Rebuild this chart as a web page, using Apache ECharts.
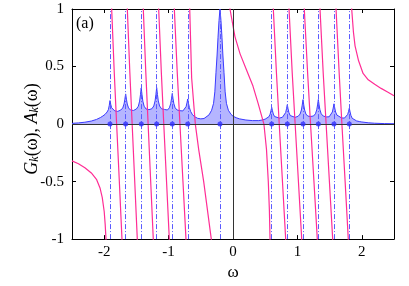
<!DOCTYPE html>
<html><head><meta charset="utf-8">
<script src="https://cdn.jsdelivr.net/npm/echarts@6/dist/echarts.min.js"></script>
<style>html,body{margin:0;padding:0;background:#fff}#c{width:409px;height:286px}</style>
</head><body><div id="c"></div>
<script>
const xTicks = [-2, -1, 0, 1, 2];
const yTicks = [-1, -0.5, 0, 0.5, 1];
const poles = [-1.91, -1.667, -1.424, -1.185, -0.943, -0.703, -0.202, 0.601, 0.843, 1.087, 1.325, 1.568, 1.806];

const spectral = [
  [-2.5,0.006],[-2.4,0.01],[-2.3,0.016],[-2.2,0.026],[-2.12,0.04],[-2.06,0.056],[-2.02,0.07],[-1.985,0.085],
  [-1.955,0.105],[-1.935,0.125],[-1.922,0.16],[-1.91,0.204],[-1.898,0.17],[-1.885,0.142],[-1.865,0.125],[-1.835,0.114],
  [-1.79,0.11],
  [-1.742,0.122],[-1.712,0.14],[-1.692,0.174],[-1.679,0.216],[-1.667,0.262],[-1.655,0.216],[-1.642,0.174],[-1.622,0.14],[-1.592,0.122],
  [-1.545,0.118],
  [-1.5,0.131],[-1.47,0.155],[-1.45,0.199],[-1.437,0.255],[-1.425,0.314],[-1.413,0.255],[-1.4,0.199],[-1.38,0.155],[-1.35,0.131],
  [-1.305,0.125],
  [-1.26,0.133],[-1.23,0.157],[-1.21,0.201],[-1.197,0.257],[-1.185,0.316],[-1.173,0.257],[-1.16,0.201],[-1.14,0.157],[-1.11,0.133],
  [-1.064,0.127],
  [-1.018,0.122],[-0.988,0.141],[-0.968,0.176],[-0.955,0.219],[-0.943,0.266],[-0.931,0.219],[-0.918,0.176],[-0.898,0.141],[-0.868,0.122],
  [-0.823,0.116],
  [-0.778,0.114],[-0.748,0.128],[-0.728,0.152],[-0.715,0.184],[-0.703,0.218],[-0.691,0.18],[-0.678,0.145],[-0.658,0.11],[-0.628,0.08],
  [-0.59,0.062],[-0.55,0.05],[-0.5,0.045],[-0.45,0.048],[-0.422,0.055],[-0.372,0.08],
  [-0.332,0.12],[-0.302,0.18],[-0.282,0.28],[-0.264,0.45],[-0.247,0.6],[-0.233,0.75],[-0.217,0.9],[-0.202,1.0],
  [-0.187,0.9],[-0.171,0.75],[-0.157,0.6],[-0.14,0.45],[-0.122,0.28],[-0.102,0.18],[-0.072,0.12],[-0.032,0.085],
  [0.0,0.068],[0.05,0.055],[0.1,0.045],[0.2,0.035],[0.3,0.03],[0.4,0.03],[0.46,0.036],[0.5,0.043],
  [0.526,0.05],[0.556,0.063],[0.576,0.085],[0.589,0.115],[0.601,0.145],[0.613,0.115],[0.626,0.087],[0.646,0.065],[0.676,0.054],
  [0.722,0.052],
  [0.768,0.059],[0.798,0.074],[0.818,0.1],[0.831,0.133],[0.843,0.168],[0.855,0.133],[0.868,0.1],[0.888,0.074],[0.918,0.06],
  [0.965,0.058],
  [1.012,0.068],[1.042,0.087],[1.062,0.122],[1.075,0.165],[1.087,0.212],[1.099,0.165],[1.112,0.122],[1.132,0.087],[1.162,0.069],
  [1.206,0.066],
  [1.25,0.07],[1.28,0.089],[1.3,0.123],[1.313,0.166],[1.325,0.213],[1.337,0.166],[1.35,0.123],[1.37,0.089],[1.4,0.07],
  [1.447,0.062],
  [1.493,0.063],[1.523,0.078],[1.543,0.105],[1.556,0.139],[1.568,0.176],[1.58,0.139],[1.593,0.105],[1.613,0.078],[1.643,0.062],
  [1.687,0.053],
  [1.731,0.052],[1.761,0.064],[1.781,0.084],[1.794,0.11],[1.806,0.138],[1.818,0.105],[1.831,0.075],[1.851,0.05],[1.881,0.035],
  [1.92,0.027],[1.96,0.022],[2.0,0.018],[2.1,0.011],[2.2,0.007],[2.35,0.004],[2.5,0.003]
];

const gSeg0 = [[-2.5,-0.32],[-2.4,-0.345],[-2.3,-0.38],[-2.2,-0.425],[-2.12,-0.48],[-2.065,-0.555],[-2.03,-0.64],[-2.0,-0.76],[-1.985,-0.87],[-1.972,-1],[-1.966,-1.2]];
const gSeg1 = [[-1.889,1.3],[-1.884,1],[-1.844,0.45],[-1.807,0],[-1.765,-0.5],[-1.724,-1],[-1.719,-1.3]];
const gSeg2 = [[-1.646,1.3],[-1.641,1],[-1.602,0.45],[-1.566,0],[-1.526,-0.5],[-1.486,-1],[-1.481,-1.3]];
const gSeg3 = [[-1.398,1.3],[-1.393,1],[-1.354,0.45],[-1.318,0],[-1.278,-0.5],[-1.238,-1],[-1.233,-1.3]];
const gSeg4 = [[-1.159,1.3],[-1.154,1],[-1.113,0.45],[-1.075,0],[-1.032,-0.5],[-0.989,-1],[-0.984,-1.3]];
const gSeg5 = [[-0.916,1.3],[-0.911,1],[-0.866,0.45],[-0.824,0],[-0.777,-0.5],[-0.73,-1],[-0.725,-1.3]];
const gSeg6 = [[-0.677,1.3],[-0.672,1],[-0.642,0.4],[-0.585,0],[-0.533,-0.22],[-0.455,-0.5],[-0.337,-1],[-0.33,-1.1]];
const gSeg7 = [[-0.06,1.2],[-0.047,1],[0.03,0.76],[0.11,0.61],[0.21,0.47],[0.31,0.33],[0.39,0.18],[0.44,0.08],[0.48,0],[0.52,-0.22],[0.548,-0.5],[0.565,-0.75],[0.575,-1],[0.578,-1.2]];
const gSeg8 = [[0.621,1.3],[0.626,1],[0.674,0.45],[0.718,0],[0.768,-0.5],[0.818,-1],[0.823,-1.3]];
const gSeg9 = [[0.865,1.3],[0.87,1],[0.919,0.45],[0.965,0],[1.016,-0.5],[1.067,-1],[1.072,-1.3]];
const gSeg10 = [[1.102,1.3],[1.107,1],[1.158,0.45],[1.204,0],[1.257,-0.5],[1.309,-1],[1.314,-1.3]];
const gSeg11 = [[1.346,1.3],[1.351,1],[1.4,0.45],[1.446,0],[1.497,-0.5],[1.548,-1],[1.553,-1.3]];
const gSeg12 = [[1.595,1.3],[1.6,1],[1.648,0.45],[1.691,0],[1.741,-0.5],[1.79,-1],[1.795,-1.3]];
const gSeg13 = [[1.838,1.3],[1.843,1],[1.87,0.8],[1.895,0.68],[1.95,0.55],[2.02,0.44],[2.1,0.385],[2.2,0.345],[2.3,0.31],[2.4,0.278],[2.5,0.246]];
const gSegments = [gSeg0,gSeg1,gSeg2,gSeg3,gSeg4,gSeg5,gSeg6,gSeg7,gSeg8,gSeg9,gSeg10,gSeg11,gSeg12,gSeg13];

const FONT = 'Liberation Serif';
const chart = echarts.init(document.getElementById('c'), null, {renderer: 'canvas'});

const axisCommon = {
  type: 'value',
  splitLine: {show: false},
  axisLine: {show: true, onZero: false, lineStyle: {color: '#000', width: 1}},
};

const series = [];
series.push({
  type: 'line', data: spectral, symbol: 'none', z: 2,
  lineStyle: {color: '#3a3aff', width: 1},
  areaStyle: {color: '#b5b5ff', opacity: 1},
  markLine: {
    symbol: 'none', silent: true, label: {show: false},
    lineStyle: {color: '#5a5aff', type: [5, 2, 1, 2], width: 1},
    data: poles.map(p => ({xAxis: p}))
  }
});
series.push({
  type: 'line', data: [], z: 4,
  markLine: {
    symbol: 'none', silent: true, label: {show: false},
    lineStyle: {color: '#333', type: 'solid', width: 1},
    data: [{xAxis: 0}, {yAxis: 0}]
  }
});
gSegments.forEach(seg => series.push({
  type: 'line', data: seg, symbol: 'none', z: 3, clip: true,
  lineStyle: {color: '#ff2d95', width: 1.2}
}));
series.push({
  type: 'scatter', data: poles.map(p => [p, 0]), symbol: 'circle', symbolSize: 5, z: 6,
  itemStyle: {color: '#2f2fff'}
});

chart.setOption({
  animation: false,
  backgroundColor: '#fff',
  grid: {left: 72, right: 15, top: 9, bottom: 40},
  xAxis: [
    Object.assign({}, axisCommon, {
      position: 'bottom', min: -2.5, max: 2.5,
      name: 'ω', nameLocation: 'middle', nameGap: 19,
      nameTextStyle: {fontFamily: FONT, fontSize: 17, color: '#000'},
      axisTick: {show: true, inside: true, length: 4, customValues: xTicks, lineStyle: {color: '#000'}},
      axisLabel: {show: true, customValues: xTicks, margin: 5, fontFamily: FONT, fontSize: 15, color: '#000'}
    }),
    Object.assign({}, axisCommon, {
      position: 'top', min: -2.5, max: 2.5,
      axisTick: {show: true, inside: true, length: 4, customValues: xTicks, lineStyle: {color: '#000'}},
      axisLabel: {show: false}
    })
  ],
  yAxis: [
    Object.assign({}, axisCommon, {
      position: 'left', min: -1, max: 1, interval: 0.5,
      axisTick: {show: true, inside: true, length: 4, lineStyle: {color: '#000'}},
      axisLabel: {show: true, margin: 8, fontFamily: FONT, fontSize: 15, color: '#000'}
    }),
    Object.assign({}, axisCommon, {
      position: 'right', min: -1, max: 1, interval: 0.5,
      axisTick: {show: true, inside: true, length: 4, lineStyle: {color: '#000'}},
      axisLabel: {show: false}
    })
  ],
  graphic: [
    {
      type: 'text', left: 76, top: 16, z: 10,
      style: {text: '(a)', font: '16px "Liberation Serif"', fill: '#000'}
    },
    {
      type: 'text', x: 32, y: 129, rotation: Math.PI / 2, z: 10,
      style: {
        text: '{i|G}{s|k}{n|(ω), }{i|A}{s|k}{n|(ω)}',
        align: 'center', verticalAlign: 'middle', fill: '#000',
        rich: {
          i: {fontFamily: FONT, fontSize: 18, fontStyle: 'italic', fill: '#000', verticalAlign: 'bottom'},
          n: {fontFamily: FONT, fontSize: 18, fill: '#000', verticalAlign: 'bottom'},
          s: {fontFamily: FONT, fontSize: 12, fontStyle: 'italic', fill: '#000', verticalAlign: 'bottom', padding: [6, 0, 0, 0]}
        }
      }
    }
  ],
  series: series
});
</script></body></html>
